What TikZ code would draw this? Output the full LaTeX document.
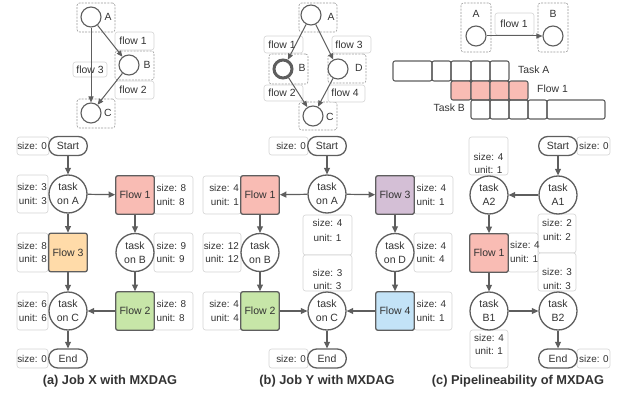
\documentclass[tikz,border=0pt]{standalone}
\usepackage{fontspec}
\setmainfont{Liberation Sans}
\usetikzlibrary{arrows.meta}
\definecolor{ln}{HTML}{5E5E5E}
\definecolor{tx}{HTML}{333333}
\definecolor{lb}{HTML}{D4D4D4}
\definecolor{dsh}{HTML}{9A9A9A}
\definecolor{fpink}{HTML}{F9BCB4}
\definecolor{forange}{HTML}{FFDBA9}
\definecolor{fgreen}{HTML}{C7E6A8}
\definecolor{fpurple}{HTML}{D4BFD6}
\definecolor{fblue}{HTML}{C3E3F7}
\newcommand{\bx}[6]{\node[#6, minimum width={(#4-#2)*1pt}, minimum height={(#5-#3)*1pt}] (#1) at ({(#2+#4)/2},{(#3+#5)/2}) {};}
\tikzset{
  lbl/.style={draw=lb, line width=0.6pt, rounded corners=2.5pt, inner sep=0pt, fill=white},
  dbox/.style={draw=dsh, dashed, dash pattern=on 2pt off 1.2pt, line width=0.6pt, rounded corners=2.5pt, inner sep=0pt},
  lt/.style={text=tx, font=\fontsize{9.9}{13.5}\selectfont, inner sep=0pt},
  tk/.style={circle, draw=ln, line width=1.3pt, fill=white, minimum size=38pt, inner sep=0pt, align=center, text=tx, font=\fontsize{10.5}{14}\selectfont},
  fl/.style={rectangle, rounded corners=2pt, draw=ln, line width=1.3pt, minimum size=38.5pt, inner sep=0pt, text=tx, font=\fontsize{10.5}{13}\selectfont},
  pill/.style={rectangle, rounded corners=9pt, draw=ln, line width=1.3pt, fill=white, minimum width=38.5pt, minimum height=19pt, inner sep=0pt, text=tx, font=\fontsize{10.5}{13}\selectfont},
  sc/.style={circle, draw=ln, line width=1.1pt, fill=white, minimum size=20pt, inner sep=0pt},
  arr/.style={draw=ln, line width=1.2pt, -{Triangle[length=6.5pt,width=6pt]}},
  sarr/.style={draw=ln, line width=1pt, -{Triangle[length=6pt,width=5pt]}},
  cell/.style={draw=ln, line width=1.1pt, rounded corners=2pt},
  captxt/.style={text=tx, font=\bfseries\fontsize{12.8}{15}\selectfont},
  tl/.style={text=tx, font=\fontsize{10.4}{13}\selectfont, inner sep=0pt},
}
\begin{document}
\begin{tikzpicture}[x=1pt,y=-1pt]
\useasboundingbox (0,0) rectangle (621,396);

% ================= TOP (a) =================
\bx{ua}{77}{3}{115}{32}{dbox}
\bx{ub}{115}{51}{154}{80}{dbox}
\bx{uc}{77}{99}{115}{128}{dbox}
\bx{uf1}{115}{32}{154}{50}{lbl}
\bx{uf2}{115}{81}{154}{99}{lbl}
\bx{uf3}{73}{62}{107}{77}{lbl}
\node[sc] (qa) at (91,17) {};
\node[sc] (qb) at (129,65) {};
\node[sc] (qc) at (91,113) {};
\node[tl] (qal) at (108,17) {A};
\node[tl] (qbl) at (147,65) {B};
\node[tl] (qcl) at (108,113) {C};
\node[tl] (qf1) at (133,41) {flow 1};
\node[tl] (qf2) at (133,90) {flow 2};
\node[tl] (qf3) at (90,69.5) {flow 3};
\draw[sarr] (qa) -- (qc);
\draw[sarr] (qa) -- (qb);
\draw[sarr] (qb) -- (qc);

% ================= TOP (b) =================
\bx{va}{299}{3}{337}{32}{dbox}
\bx{vb}{269}{54}{308}{84}{dbox}
\bx{vd}{328}{54}{366}{83}{dbox}
\bx{vc}{299}{102}{337}{130}{dbox}
\bx{vf1}{264}{36}{303}{53}{lbl}
\bx{vf3}{332}{36}{371}{53}{lbl}
\bx{vf2}{264}{85}{303}{101}{lbl}
\bx{vf4}{328}{85}{365}{102}{lbl}
\node[sc] (ra) at (311,15) {};
\node[sc, line width=3pt, minimum size=18pt] (rb) at (283,69) {};
\node[sc] (rd) at (338,69) {};
\node[sc] (rc) at (313,116) {};
\node[tl] (ral) at (331,17) {A};
\node[tl] (rbl) at (302,68) {B};
\node[tl] (rdl) at (359,68) {D};
\node[tl] (rcl) at (330,117) {C};
\node[tl] (rf1) at (282,45) {flow 1};
\node[tl] (rf3) at (349,45) {flow 3};
\node[tl] (rf2) at (282,93) {flow 2};
\node[tl] (rf4) at (345,93) {flow 4};
\draw[sarr] (ra) -- (rb);
\draw[sarr] (ra) -- (rd);
\draw[sarr] (rb) -- (rc);
\draw[sarr] (rd) -- (rc);

% ================= TOP (c) =================
\bx{wa}{461}{3}{491}{52}{dbox}
\bx{wb}{538}{3}{568}{52}{dbox}
\bx{wf}{495}{13}{534}{35}{lbl}
\node[sc] (pa) at (476,36) {};
\node[sc] (pb) at (553,36) {};
\node[tl] (pal) at (476,14) {A};
\node[tl] (pbl) at (553,14) {B};
\node[tl] (pfl) at (514,24) {flow 1};
\draw[sarr] (pa) -- (pb);
% bars
\draw[cell] (393,61) rectangle (432,81);
\draw[cell] (432,61) rectangle (451,81);
\draw[cell] (451,61) rectangle (471,81);
\draw[cell] (471,61) rectangle (490,81);
\draw[cell] (490,61) rectangle (509,81);
\draw[cell, fill=fpink] (451,81) rectangle (471,100);
\draw[cell, fill=fpink] (471,81) rectangle (490,100);
\draw[cell, fill=fpink] (490,81) rectangle (509,100);
\draw[cell, fill=fpink] (509,81) rectangle (528,100);
\draw[cell] (471,100) rectangle (490,119);
\draw[cell] (490,100) rectangle (509,119);
\draw[cell] (509,100) rectangle (528,119);
\draw[cell] (528,100) rectangle (547,119);
\draw[cell] (547,100) rectangle (605,119);
\node[tl, anchor=west] (pta) at (518,70) {Task A};
\node[tl, anchor=west] (ptf) at (537,89) {Flow 1};
\node[tl, anchor=east] (ptb) at (465,108) {Task B};

% ================= BOTTOM (a) =================
\bx{la1}{17}{137}{49}{155}{lbl}
\bx{la2}{17}{175}{48}{213}{lbl}
\bx{la3}{154}{176}{193}{214}{lbl}
\bx{la4}{17}{233}{48}{272}{lbl}
\bx{la5}{154}{233}{193}{272}{lbl}
\bx{la6}{17}{292}{48}{330}{lbl}
\bx{la7}{154}{292}{193}{330}{lbl}
\bx{la8}{17}{349}{48}{368}{lbl}
\node[lt, anchor=east, align=right] (ta1) at (47,146) {size: 0};
\node[lt, anchor=east, align=right] (ta2) at (47,194) {size: 3\\unit: 3};
\node[lt, anchor=west, align=left] (ta3) at (156.5,195) {size: 8\\unit: 8};
\node[lt, anchor=east, align=right] (ta4) at (47,252.5) {size: 8\\unit: 8};
\node[lt, anchor=west, align=left] (ta5) at (156.5,252.5) {size: 9\\unit: 9};
\node[lt, anchor=east, align=right] (ta6) at (47,311) {size: 6\\unit: 6};
\node[lt, anchor=west, align=left] (ta7) at (156.5,311) {size: 8\\unit: 8};
\node[lt, anchor=east, align=right] (ta8) at (47,358.5) {size: 0};

\node[pill] (sta) at (68,146) {Start};
\node[tk] (tka) at (68,194) {task\\on A};
\node[fl, fill=fpink] (f1a) at (135,195) {Flow 1};
\node[fl, fill=forange] (f3a) at (68,252.5) {Flow 3};
\node[tk] (tkb) at (135,252.5) {task\\on B};
\node[tk] (tkc) at (68,311) {task\\on C};
\node[fl, fill=fgreen] (f2a) at (135,311) {Flow 2};
\node[pill] (ena) at (68,358.5) {End};
\draw[arr] (sta) -- (tka);
\draw[arr] (tka) -- (f1a);
\draw[arr] (tka) -- (f3a);
\draw[arr] (f1a) -- (tkb);
\draw[arr] (f3a) -- (tkc);
\draw[arr] (tkb) -- (f2a);
\draw[arr] (f2a) -- (tkc);
\draw[arr] (tkc) -- (ena);
\node[captxt] (capa) at (110,381) {(a) Job X with MXDAG};

% ================= BOTTOM (b) =================
\bx{lb1}{269}{137}{308}{155}{lbl}
\bx{lb2}{203}{176}{241}{214}{lbl}
\bx{lb3}{414}{176}{453}{214}{lbl}
\bx{lb4}{303}{215}{352}{255}{lbl}
\bx{lb5}{303}{255}{352}{291}{lbl}
\bx{lb6}{203}{233}{241}{272}{lbl}
\bx{lb7}{414}{233}{452}{272}{lbl}
\bx{lb8}{203}{292}{241}{330}{lbl}
\bx{lb9}{414}{292}{452}{330}{lbl}
\bx{lb10}{269}{349}{308}{368}{lbl}
\node[lt, anchor=east, align=right] (tb1) at (306,146) {size: 0};
\node[lt, anchor=east, align=right] (tb2) at (239,195) {size: 4\\unit: 1};
\node[lt, anchor=west, align=left] (tb3) at (416.5,195) {size: 4\\unit: 1};
\node[lt, align=center, font=\fontsize{9.9}{15}\selectfont] (tb4) at (327.5,230.5) {size: 4\\unit: 1};
\node[lt, align=center, font=\fontsize{9.9}{13.5}\selectfont] (tb5) at (327.5,279.5) {size: 3\\unit: 3};
\node[lt, anchor=east, align=right] (tb6) at (239,252.5) {size: 12\\unit: 12};
\node[lt, anchor=west, align=left] (tb7) at (416.5,252.5) {size: 4\\unit: 4};
\node[lt, anchor=east, align=right] (tb8) at (239,311) {size: 4\\unit: 4};
\node[lt, anchor=west, align=left] (tb9) at (416.5,311) {size: 4\\unit: 1};
\node[lt, anchor=east, align=right] (tb10) at (306,358.5) {size: 0};

\node[pill] (stb) at (327,146) {Start};
\node[tk] (tkab) at (327,194) {task\\on A};
\node[fl, fill=fpink] (f1b) at (260,195) {Flow 1};
\node[fl, fill=fpurple] (f3b) at (395,195) {Flow 3};
\node[tk] (tkbb) at (260,252.5) {task\\on B};
\node[tk] (tkdb) at (395,252.5) {task\\on D};
\node[fl, fill=fgreen] (f2b) at (260,311) {Flow 2};
\node[tk] (tkcb) at (327,311) {task\\on C};
\node[fl, fill=fblue] (f4b) at (395,311) {Flow 4};
\node[pill] (enb) at (327,358.5) {End};
\draw[arr] (stb) -- (tkab);
\draw[arr] (tkab) -- (f1b);
\draw[arr] (tkab) -- (f3b);
\draw[arr] (f1b) -- (tkbb);
\draw[arr] (f3b) -- (tkdb);
\draw[arr] (tkbb) -- (f2b);
\draw[arr] (tkdb) -- (f4b);
\draw[arr] (f2b) -- (tkcb);
\draw[arr] (f4b) -- (tkcb);
\draw[arr] (tkcb) -- (enb);
\node[captxt] (capb) at (327,381) {(b) Job Y with MXDAG};

% ================= BOTTOM (c) =================
\bx{lc1}{577}{137}{610}{155}{lbl}
\bx{lc2}{469}{137}{508}{175}{lbl}
\bx{lc3}{538}{214}{576}{253}{lbl}
\bx{lc4}{538}{253}{576}{291}{lbl}
\bx{lc5}{508}{233}{538}{272}{lbl}
\bx{lc6}{470}{330}{508}{368}{lbl}
\bx{lc7}{577}{349}{610}{368}{lbl}
\node[lt, anchor=west, align=left] (tc1) at (579,146) {size: 0};
\node[lt, align=center] (tc2) at (488.5,163.5) {size: 4\\unit: 1};
\node[lt, align=center] (tc3) at (557,230) {size: 2\\unit: 2};
\node[lt, align=center] (tc4) at (557,279) {size: 3\\unit: 3};
\node[lt, anchor=west, align=left] (tc5) at (510,252) {size: 4\\unit: 1};
\node[lt, align=center] (tc6) at (489,344.5) {size: 4\\unit: 1};
\node[lt, anchor=west, align=left] (tc7) at (579,358.5) {size: 0};

\node[pill] (stc) at (558,146) {Start};
\node[tk] (a1) at (558,195) {task\\A1};
\node[tk] (a2) at (489,195) {task\\A2};
\node[fl, fill=fpink] (f1c) at (489,253) {Flow 1};
\node[tk] (b1) at (489,311) {task\\B1};
\node[tk] (b2) at (558,311) {task\\B2};
\node[pill] (enc) at (558,358.5) {End};
\draw[arr] (stc) -- (a1);
\draw[arr] (a1) -- (a2);
\draw[arr] (a2) -- (f1c);
\draw[arr] (f1c) -- (b1);
\draw[arr] (b1) -- (b2);
\draw[arr] (b2) -- (enc);
\node[captxt] (capc) at (518,381) {(c) Pipelineability of MXDAG};
\end{tikzpicture}
\end{document}
